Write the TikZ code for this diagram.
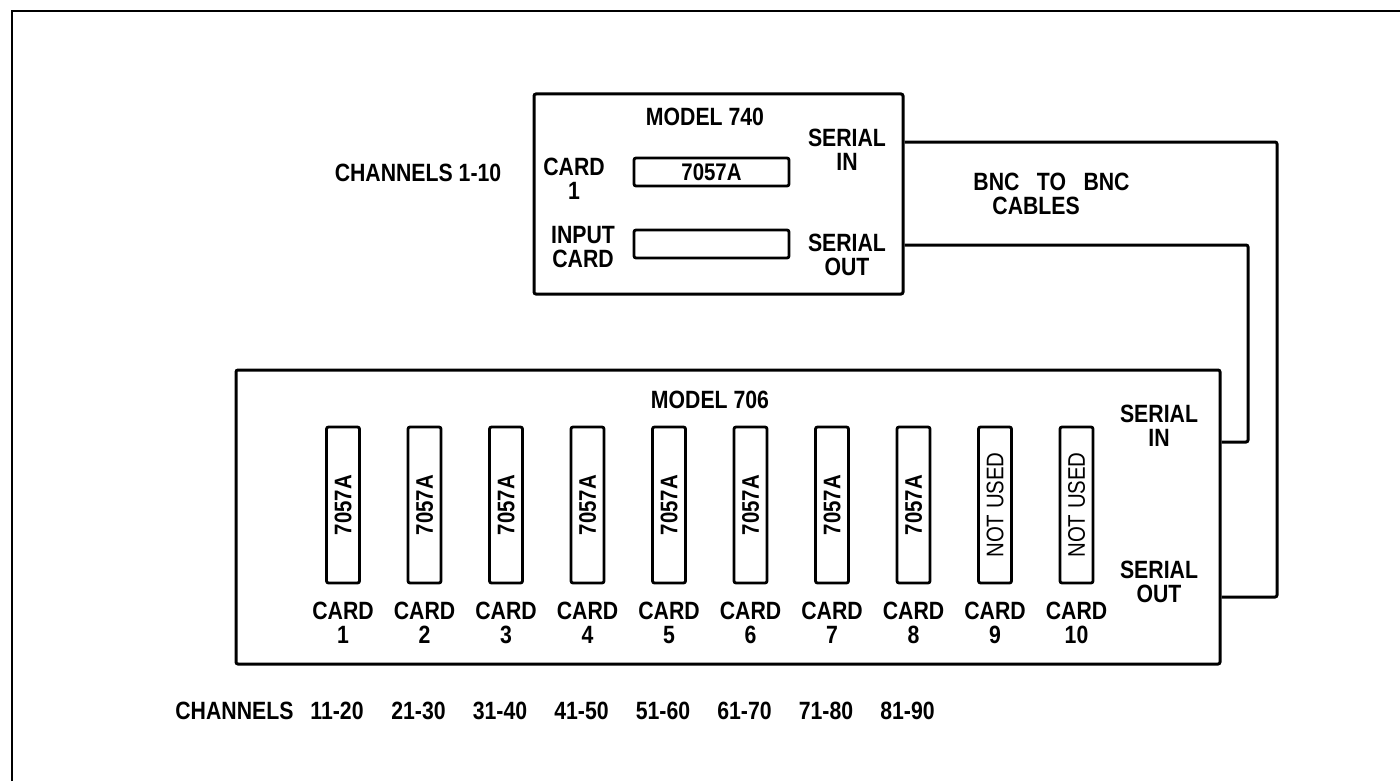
\documentclass[tikz,border=0pt]{standalone}
\usepackage{fontspec}
\setmainfont{Liberation Sans}[FakeStretch=0.85]
\usetikzlibrary{positioning}

\begin{document}
\begin{tikzpicture}[x=0.5pt, y=-0.5pt,
  lbl/.style={font=\bfseries\fontsize{12.5}{12}\selectfont, align=center, inner sep=0pt},
  panel/.style={draw, line width=1.5pt, rounded corners=1pt, inner sep=0pt},
  slot/.style={draw, line width=1.4pt, rounded corners=1pt, inner sep=0pt,
               font=\bfseries\fontsize{12}{12}\selectfont},
  cable/.style={line width=1.5pt, rounded corners=1pt}
]
\useasboundingbox (0,0) rectangle (1400,781);
\draw[line width=1pt] (12,781) -- (12,11) -- (1400,11);

% model 740
\node[panel, minimum width=184.5pt, minimum height=100pt] (m740) at (718.5,194) {};
\node[lbl] (t740) at (705,117) {MODEL 740};
\node[slot, minimum width=77.5pt, minimum height=14pt] (c740) at (711.5,172) {7057A};
\node[slot, minimum width=77.5pt, minimum height=14pt] (inp) at (711.5,244) {};
\node[lbl] (lc740) at (574,179) {CARD\\1};
\node[lbl] (linp) at (583,247) {INPUT\\CARD};
\node[lbl] (lsin1) at (847,150) {SERIAL\\IN};
\node[lbl] (lsout1) at (847,255) {SERIAL\\OUT};
\node[lbl] (ch1) at (418,173) {CHANNELS 1-10};
\node[lbl, align=left, anchor=west] (bnc) at (973,194)
  {BNC\hspace{0.7em}TO\hspace{0.7em}BNC\\\hspace{9.5pt}CABLES};

% model 706
\node[panel, minimum width=492pt, minimum height=147pt] (m706) at (728,517) {};
\node[lbl] (t706) at (710,400) {MODEL 706};
\foreach \i/\t in {1/7057A, 2/7057A, 3/7057A, 4/7057A, 5/7057A, 6/7057A,
                   7/7057A, 8/7057A, 9/\mdseries NOT USED, 10/\mdseries NOT USED} {
  \node[slot, minimum width=16.5pt, minimum height=78pt] (s\i)
    at ({343+81.5*(\i-1)},505) {\rotatebox{90}{\t}};
  \node[lbl, below=8.5pt of s\i] (k\i) {CARD\\\i};
}
\node[lbl] (lsin2) at (1159,426) {SERIAL\\IN};
\node[lbl] (lsout2) at (1159,582) {SERIAL\\OUT};

% channels
\node[lbl, anchor=west] (chl) at (175,711) {CHANNELS};
\foreach \k/\r in {0/11-20, 1/21-30, 2/31-40, 3/41-50, 4/51-60, 5/61-70, 6/71-80, 7/81-90}
  \node[lbl] (r\k) at ({337+81.5*\k},711) {\r};

% cables
\coordinate (sin740) at (m740.east |- 0,142);
\coordinate (sout740) at (m740.east |- 0,245);
\coordinate (sin706) at (m706.east |- 0,442);
\coordinate (sout706) at (m706.east |- 0,597);
\draw[cable] (sin740) -- (1277,142) |- (sout706);
\draw[cable] (sout740) -- (1248,245) |- (sin706);
\end{tikzpicture}
\end{document}
